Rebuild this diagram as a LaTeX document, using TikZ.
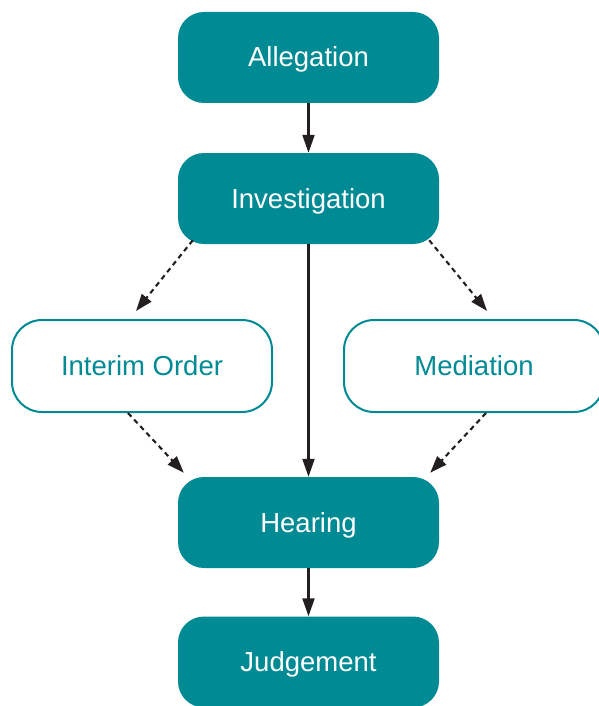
\documentclass[tikz,border=0pt]{standalone}
\usepackage{fontspec}
\setmainfont{Liberation Sans}
\usetikzlibrary{arrows.meta,calc}
\definecolor{teal1}{HTML}{008A94}
\definecolor{arr}{HTML}{231F20}
\tikzset{
  filled/.style={rectangle, rounded corners=26pt, fill=teal1, draw=none,
    minimum width=261pt, minimum height=91pt, text=white, font=\fontsize{27.5}{30}\selectfont, inner sep=0pt,
    text depth=0pt, text height=19pt},
  outlined/.style={rectangle, rounded corners=30pt, fill=white, draw=teal1, line width=2pt,
    minimum width=260pt, minimum height=92pt, text=teal1, font=\fontsize{27.5}{30}\selectfont, inner sep=0pt,
    text depth=0pt, text height=19pt},
  solidarrow/.style={draw=arr, line width=2.1pt, -{Triangle[length=18pt,width=12pt]}},
  dasharrow/.style={draw=arr, line width=2.1pt, dash pattern=on 5pt off 4pt, -{Triangle[length=17pt,width=12pt]}}
}
\begin{document}
\begin{tikzpicture}[x=1pt,y=-1pt]
\useasboundingbox (0,0) rectangle (598,706);
\node[filled] (all) at (308.5,57.5) {Allegation};
\node[filled] (inv) at (308.5,198.5) {Investigation};
\node[outlined] (io) at (142,366) {Interim Order};
\node[outlined] (med) at (474,366) {Mediation};
\node[filled] (hear) at (308.5,522.5) {Hearing};
\node[filled] (judg) at (308.5,662) {Judgement};
\draw[solidarrow] (all.south) -- (inv.north);
\draw[solidarrow] (inv.south) -- (hear.north);
\draw[solidarrow] (hear.south) -- (judg.north);
\draw[dasharrow] ($(inv.south west)+(15,-4)$) -- ($(io.north)+(-6,-8)$);
\draw[dasharrow] ($(inv.south east)+(-10,-4)$) -- ($(med.north)+(13,-8)$);
\draw[dasharrow] ($(io.south)+(-14,0)$) -- ($(hear.north west)+(6,-4)$);
\draw[dasharrow] ($(med.south)+(12,0)$) -- ($(hear.north east)+(-9,-4)$);
\end{tikzpicture}
\end{document}
